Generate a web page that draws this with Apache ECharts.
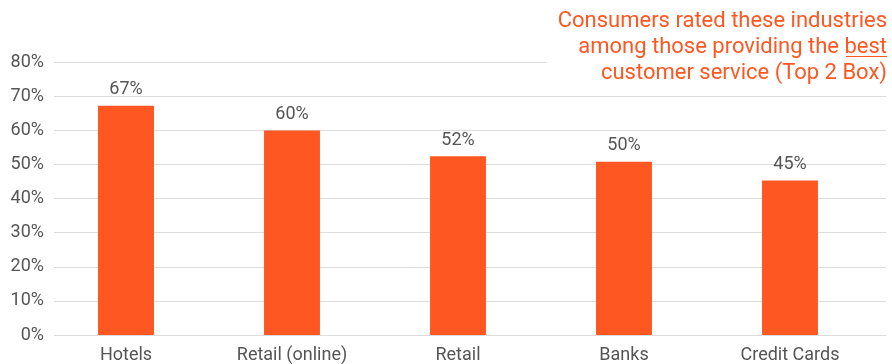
<!DOCTYPE html>
<html>
<head>
<meta charset="utf-8">
<script src="https://cdn.jsdelivr.net/npm/echarts@6/dist/echarts.min.js"></script>
<style>
  body { margin: 0; background: #fff; }
  #chart { width: 892px; height: 364px; }
</style>
</head>
<body>
<div id="chart"></div>
<script>
// chart data
var categories = ['Hotels', 'Retail (online)', 'Retail', 'Banks', 'Credit Cards']
var scores = [67.2, 59.9, 52.4, 50.8, 45.3]
var scoreLabels = ['67%', '60%', '52%', '50%', '45%']
var yTicks = [0, 10, 20, 30, 40, 50, 60, 70, 80]

var orange = '#FF5722'
var gray = '#555'

var chart = echarts.init(document.getElementById('chart'))

var option = {
  animation: false,
  textStyle: { fontFamily: 'Roboto' },
  grid: [
    // grid for the y labels and gridlines
    { left: 54, right: 6, top: 62, bottom: 29 },
    // grid for the bars
    { left: 43, right: 19, top: 62, bottom: 29 }
  ],
  xAxis: [
    { gridIndex: 0, type: 'value', min: 0, max: 1, show: false },
    {
      gridIndex: 1,
      type: 'category',
      data: categories,
      axisLine: { show: false },
      axisTick: { show: false },
      axisLabel: { color: gray, fontSize: 18, margin: 11 }
    }
  ],
  yAxis: [
    {
      gridIndex: 0,
      type: 'value',
      min: yTicks[0],
      max: yTicks[yTicks.length - 1],
      interval: 10,
      axisLine: { show: false },
      axisTick: { show: false },
      axisLabel: { color: gray, fontSize: 18, margin: 10, formatter: '{value}%' },
      splitLine: { lineStyle: { color: '#dcdcdc', width: 1 } }
    },
    {
      gridIndex: 1,
      type: 'value',
      min: yTicks[0],
      max: yTicks[yTicks.length - 1],
      show: false,
      splitLine: { show: false }
    }
  ],
  series: [
    {
      type: 'bar',
      xAxisIndex: 1,
      yAxisIndex: 1,
      data: scores,
      barWidth: '33.7%',
      itemStyle: { color: orange },
      label: {
        show: true,
        position: 'top',
        distance: 7,
        color: gray,
        fontSize: 18,
        formatter: function (p) { return scoreLabels[p.dataIndex] }
      }
    }
  ],
  graphic: [
    // white patch so the top gridline stops before the note
    {
      type: 'rect',
      z: 10,
      shape: { x: 547, y: 55, width: 345, height: 15 },
      style: { fill: '#fff' }
    },
    // note in the top right corner
    {
      type: 'text',
      z: 11,
      x: 887,
      y: 8,
      style: {
        text: 'Consumers rated these industries\namong those providing the best\ncustomer service (Top 2 Box)',
        fill: orange,
        font: '22px Roboto',
        lineHeight: 26,
        align: 'right',
        verticalAlign: 'top'
      }
    },
    // underline under "best"
    {
      type: 'line',
      z: 12,
      shape: { x1: 846, y1: 56.5, x2: 887, y2: 56.5 },
      style: { stroke: orange, lineWidth: 1 }
    }
  ]
}

chart.setOption(option)
</script>
</body>
</html>
